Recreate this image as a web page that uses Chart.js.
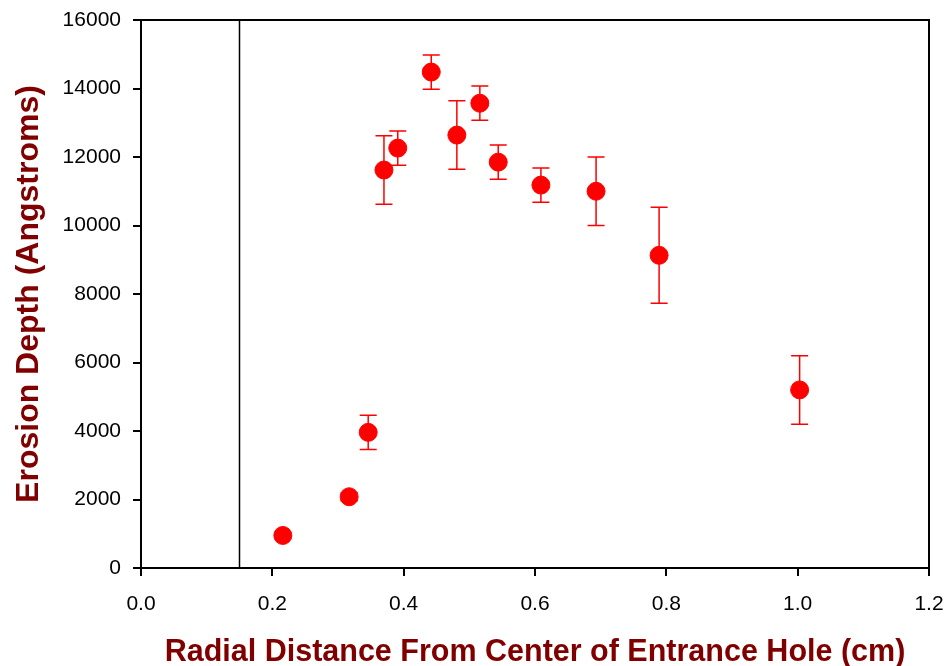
<!DOCTYPE html>
<html>
<head>
<meta charset="utf-8">
<script src="https://cdn.jsdelivr.net/npm/chart.js@4"></script>
<style>
  body { margin: 0; background: #fff; }
  #wrap { width: 949px; height: 666px; }
</style>
</head>
<body>
<div id="wrap"><canvas id="myChart" width="949" height="666"></canvas></div>
<script>
// radial distance (cm) and erosion depth (Angstroms)
var radius = [0.216, 0.317, 0.346, 0.370, 0.391, 0.442, 0.481, 0.516, 0.544, 0.609, 0.693, 0.789, 1.003];
var depth = [950, 2080, 3960, 11620, 12260, 14480, 12640, 13570, 11850, 11180, 11000, 9130, 5200];
// +/- error on each point
var depthErr = [0, 120, 500, 1000, 500, 500, 1000, 500, 500, 500, 1000, 1400, 1000];
// vertical reference line position
var holeEdge = [0.15];

var xTicks = [0, 0.2, 0.4, 0.6, 0.8, 1.0, 1.2];
var yTicks = [0, 2000, 4000, 6000, 8000, 10000, 12000, 14000, 16000];

var points = radius.map((r, i) => ({x: r, y: depth[i]}));

// chart.js has no error bars, so draw them with the scales
var errorBars = {
	id: 'errorBars',
	beforeDatasetsDraw(chart) {
		var ctx = chart.ctx;
		var xs = chart.scales.x, ys = chart.scales.y;
		ctx.save();
		ctx.strokeStyle = '#ff0000';
		ctx.lineWidth = 1.5;
		points.forEach((p, i) => {
			if (!depthErr[i]) return;
			var px = xs.getPixelForValue(p.x);
			var top = ys.getPixelForValue(p.y + depthErr[i]);
			var bot = ys.getPixelForValue(p.y - depthErr[i]);
			ctx.beginPath();
			ctx.moveTo(px, top); ctx.lineTo(px, bot);
			ctx.moveTo(px - 8.5, top); ctx.lineTo(px + 8.5, top);
			ctx.moveTo(px - 8.5, bot); ctx.lineTo(px + 8.5, bot);
			ctx.stroke();
		});
		// frame on top and right
		var a = chart.chartArea;
		ctx.strokeStyle = '#000';
		ctx.lineWidth = 2;
		ctx.beginPath();
		ctx.moveTo(a.left, a.top); ctx.lineTo(a.right, a.top); ctx.lineTo(a.right, a.bottom);
		ctx.stroke();
		ctx.restore();
	}
};

var tickFont = {family: 'Liberation Sans, Arial', size: 21};

var chart = new Chart(document.getElementById('myChart'), {
	type: 'scatter',
	data: {
		datasets: [
			{
				data: points,
				backgroundColor: '#ff0000',
				borderColor: '#ff0000',
				pointRadius: 9,
				pointHoverRadius: 9
			},
			{
				type: 'line',
				data: [{x: holeEdge[0], y: yTicks[0]}, {x: holeEdge[0], y: yTicks[yTicks.length - 1]}],
				borderColor: '#000',
				borderWidth: 1.5,
				pointRadius: 0,
				fill: false
			}
		]
	},
	options: {
		responsive: false,
		animation: false,
		layout: {padding: {top: 20, right: 20, left: 0, bottom: 0}},
		plugins: {legend: {display: false}, tooltip: {enabled: false}},
		scales: {
			x: {
				type: 'linear',
				min: 0, max: 1.2,
				afterBuildTicks: (s) => { s.ticks = xTicks.map(v => ({value: v})); },
				afterFit: (s) => { s.height = 98; s.paddingLeft = 0; s.paddingRight = 0; },
				ticks: {
					color: '#000', font: tickFont, padding: 16,
					callback: (v) => v.toFixed(1)
				},
				grid: {drawOnChartArea: false, drawTicks: true, tickLength: 8, color: '#000', lineWidth: 2},
				border: {display: true, color: '#000', width: 2},
				title: {display: true, text: 'Radial Distance From Center of Entrance Hole (cm)', color: '#800000',
					font: {family: 'Liberation Sans, Arial', size: 30.5, weight: 'bold'}, padding: {top: 14, bottom: -5}}
			},
			y: {
				type: 'linear',
				min: 0, max: 16000,
				afterBuildTicks: (s) => { s.ticks = yTicks.map(v => ({value: v})); },
				afterFit: (s) => { s.width = 141; s.paddingTop = 0; s.paddingBottom = 0; },
				ticks: {
					color: '#000', font: tickFont, padding: 12,
					callback: (v) => String(v)
				},
				grid: {drawOnChartArea: false, drawTicks: true, tickLength: 8, color: '#000', lineWidth: 2},
				border: {display: true, color: '#000', width: 2},
				title: {display: true, text: 'Erosion Depth (Angstroms)', color: '#800000',
					font: {family: 'Liberation Sans, Arial', size: 32, weight: 'bold'}, padding: {top: 10, bottom: 4}}
			}
		}
	},
	plugins: [errorBars]
});
</script>
</body>
</html>
